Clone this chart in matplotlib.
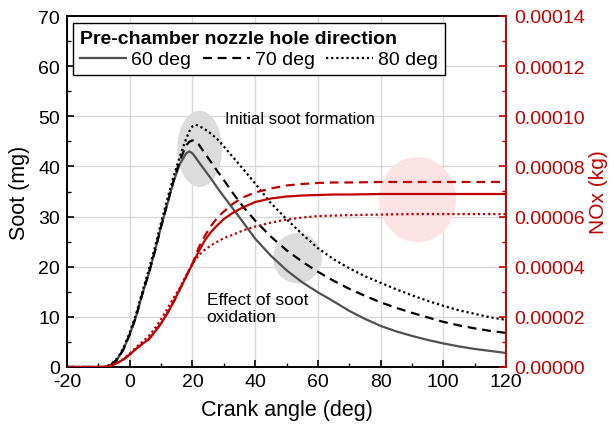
import matplotlib
matplotlib.use("Agg")
import matplotlib.pyplot as plt
from matplotlib.patches import Ellipse
from matplotlib.ticker import MultipleLocator, FormatStrFormatter

plt.rcParams['font.family'] = ['Liberation Sans', 'DejaVu Sans']
plt.rcParams['axes.unicode_minus'] = False

# crank angle (deg)
crank = [-20, -10, -8, -6, -4, -2, 0, 2, 4, 6, 8, 10, 12, 14, 16, 18, 19, 20, 21, 22,
         24, 26, 28, 30, 33, 36, 40, 45, 50, 55, 60, 65, 70, 75, 80, 85, 90, 95, 100, 105, 110, 115, 120]

# soot (mg)
soot_60 = [0, 0, 0, 0.4, 1.5, 3.5, 6.5, 10.0, 14.5, 18.5, 23.0, 28.0, 32.5, 37.0, 40.5, 42.6, 43.0, 42.6, 41.8, 40.9,
           39.2, 37.5, 35.7, 34.0, 31.5, 29.0, 25.6, 22.2, 19.3, 16.9, 14.9, 13.1,
           11.2, 9.6, 8.2, 7.1, 6.2, 5.4, 4.7, 4.1, 3.6, 3.2, 2.8]
soot_70 = [0, 0, 0, 0.4, 1.5, 3.5, 6.5, 10.0, 14.5, 18.5, 23.0, 28.0, 32.6, 37.2, 41.2, 44.2, 44.9, 45.2, 45.0, 44.4,
           42.6, 40.8, 39.0, 37.3, 34.6, 32.1, 29.2, 26.0, 23.3, 21.0, 19.0, 17.2,
           15.6, 14.2, 12.9, 11.8, 10.8, 9.9, 9.0, 8.3, 7.7, 7.2, 6.8]
soot_80 = [0, 0, 0, 0.5, 1.7, 3.8, 6.9, 10.5, 15.0, 19.2, 23.8, 28.8, 33.5, 38.0, 42.0, 45.5, 47.0, 48.0, 48.3, 48.1,
           47.4, 46.5, 45.4, 44.0, 41.8, 39.6, 36.6, 32.7, 29.5, 26.5, 23.7, 21.5,
           19.7, 18.1, 16.8, 15.5, 14.3, 13.2, 12.2, 11.3, 10.6, 9.9, 9.4]

# NOx (1e-5 kg)
nox_60 = [0, 0, 0, 0.06, 0.16, 0.30, 0.50, 0.72, 0.92, 1.10, 1.40, 1.74, 2.14, 2.60, 3.10, 3.60, 3.86, 4.10, 4.36, 4.60,
          5.06, 5.40, 5.66, 5.90, 6.16, 6.36, 6.58, 6.72, 6.80, 6.84, 6.86, 6.88,
          6.88, 6.89, 6.90, 6.90, 6.90, 6.90, 6.90, 6.90, 6.90, 6.90, 6.90]
nox_70 = [0, 0, 0, 0.06, 0.16, 0.30, 0.50, 0.72, 0.92, 1.10, 1.40, 1.74, 2.14, 2.60, 3.10, 3.60, 3.88, 4.12, 4.44, 4.76,
          5.24, 5.64, 5.96, 6.20, 6.52, 6.76, 6.96, 7.12, 7.24, 7.30, 7.34, 7.36,
          7.36, 7.37, 7.38, 7.38, 7.38, 7.38, 7.38, 7.38, 7.38, 7.38, 7.38]
nox_80 = [0, 0, 0, 0.06, 0.16, 0.32, 0.54, 0.78, 1.00, 1.22, 1.54, 1.90, 2.32, 2.76, 3.16, 3.66, 3.88, 4.10, 4.28, 4.46,
          4.68, 4.86, 5.00, 5.14, 5.28, 5.44, 5.60, 5.76, 5.88, 5.96, 6.02, 6.04,
          6.06, 6.07, 6.08, 6.09, 6.10, 6.10, 6.10, 6.10, 6.10, 6.10, 6.10]
nox_unit = 1e-5

labels = ['60 deg', '70 deg', '80 deg']
red = '#c00000'
fs = 14

fig = plt.figure(figsize=(6.14, 4.35), dpi=100)
ax = fig.add_axes([67/614, 67/435, 439/614, 351/435])
ax2 = ax.twinx()

# highlight ellipses
ax.add_patch(Ellipse((22.3, 43.5), 14.3, 15.2, color='#dcdcdc', lw=0, zorder=1))
ax.add_patch(Ellipse((53.5, 21.7), 15.6, 10.0, color='#dcdcdc', lw=0, zorder=1))
ax.add_patch(Ellipse((91.8, 33.4), 24.6, 17.0, color='#fde3e3', lw=0, zorder=1))

styles = ['-', (0, (4, 2.6)), (0, (1, 1.3))]
soot_colors = ['#505050', 'black', 'black']
handles = []
for s, ls, c, lab in zip([soot_60, soot_70, soot_80], styles, soot_colors, labels):
    h, = ax.plot(crank, s, ls=ls, color=c, lw=1.6, label=lab, zorder=3)
    handles.append(h)

for n, ls in zip([nox_60, nox_70, nox_80], styles):
    ax2.plot(crank, [v * nox_unit for v in n], ls=ls, color=red, lw=1.6)

ax.set_xlim(-20, 120)
ax.set_ylim(0, 70)
ax2.set_ylim(0, 0.00014)
ax.xaxis.set_major_locator(MultipleLocator(20))
ax.xaxis.set_minor_locator(MultipleLocator(10))
ax.yaxis.set_major_locator(MultipleLocator(10))
ax.yaxis.set_minor_locator(MultipleLocator(5))
ax2.yaxis.set_major_locator(MultipleLocator(0.00002))
ax2.yaxis.set_minor_locator(MultipleLocator(0.00001))
ax2.yaxis.set_major_formatter(FormatStrFormatter('%.5f'))

ax.grid(True, which='major', color='#d9d9d9', lw=1)
ax.set_axisbelow(True)

ax.tick_params(axis='x', which='both', direction='in', labelsize=fs, pad=4)
ax.tick_params(axis='x', which='major', length=5, width=1.2)
ax.tick_params(axis='x', which='minor', length=3, width=1)
ax.tick_params(axis='y', which='both', direction='in', labelsize=fs, pad=5)
ax.tick_params(axis='y', which='major', length=5, width=1.2)
ax.tick_params(axis='y', which='minor', length=3, width=1)
ax2.tick_params(axis='y', which='both', direction='in', labelsize=fs, pad=6, colors=red)
ax2.tick_params(axis='y', which='major', length=5, width=1.2)
ax2.tick_params(axis='y', which='minor', length=3, width=1)

for sp in ['left', 'top', 'bottom']:
    ax.spines[sp].set_linewidth(1.4)
    ax2.spines[sp].set_visible(False)
ax.spines['right'].set_visible(False)
ax2.spines['right'].set_color(red)
ax2.spines['right'].set_linewidth(1.4)

ax.set_xlabel('Crank angle (deg)', fontsize=15.5, labelpad=7)
ax.set_ylabel('Soot (mg)', fontsize=15.5, labelpad=6)
ax2.set_ylabel('NOx (kg)', fontsize=15, color=red, labelpad=3)

ax.text(30.4, 49.5, 'Initial soot formation', fontsize=12, va='center', zorder=4)
ax.text(24.5, 11.8, 'Effect of soot\noxidation', fontsize=12.5, va='center', linespacing=1.15, zorder=4)

leg = ax2.legend(handles, labels, ncol=3, loc='upper left', bbox_to_anchor=(0.0137, 0.98),
                 borderaxespad=0, fontsize=fs, title='Pre-chamber nozzle hole direction',
                 title_fontproperties={'weight': 'bold', 'size': fs}, alignment='left',
                 fancybox=False, edgecolor='black', framealpha=1, handlelength=2.4,
                 handletextpad=0.25, columnspacing=0.6, borderpad=0.35, labelspacing=0.2)
leg.get_frame().set_linewidth(1.0)

fig.savefig('out.png', dpi=100)
